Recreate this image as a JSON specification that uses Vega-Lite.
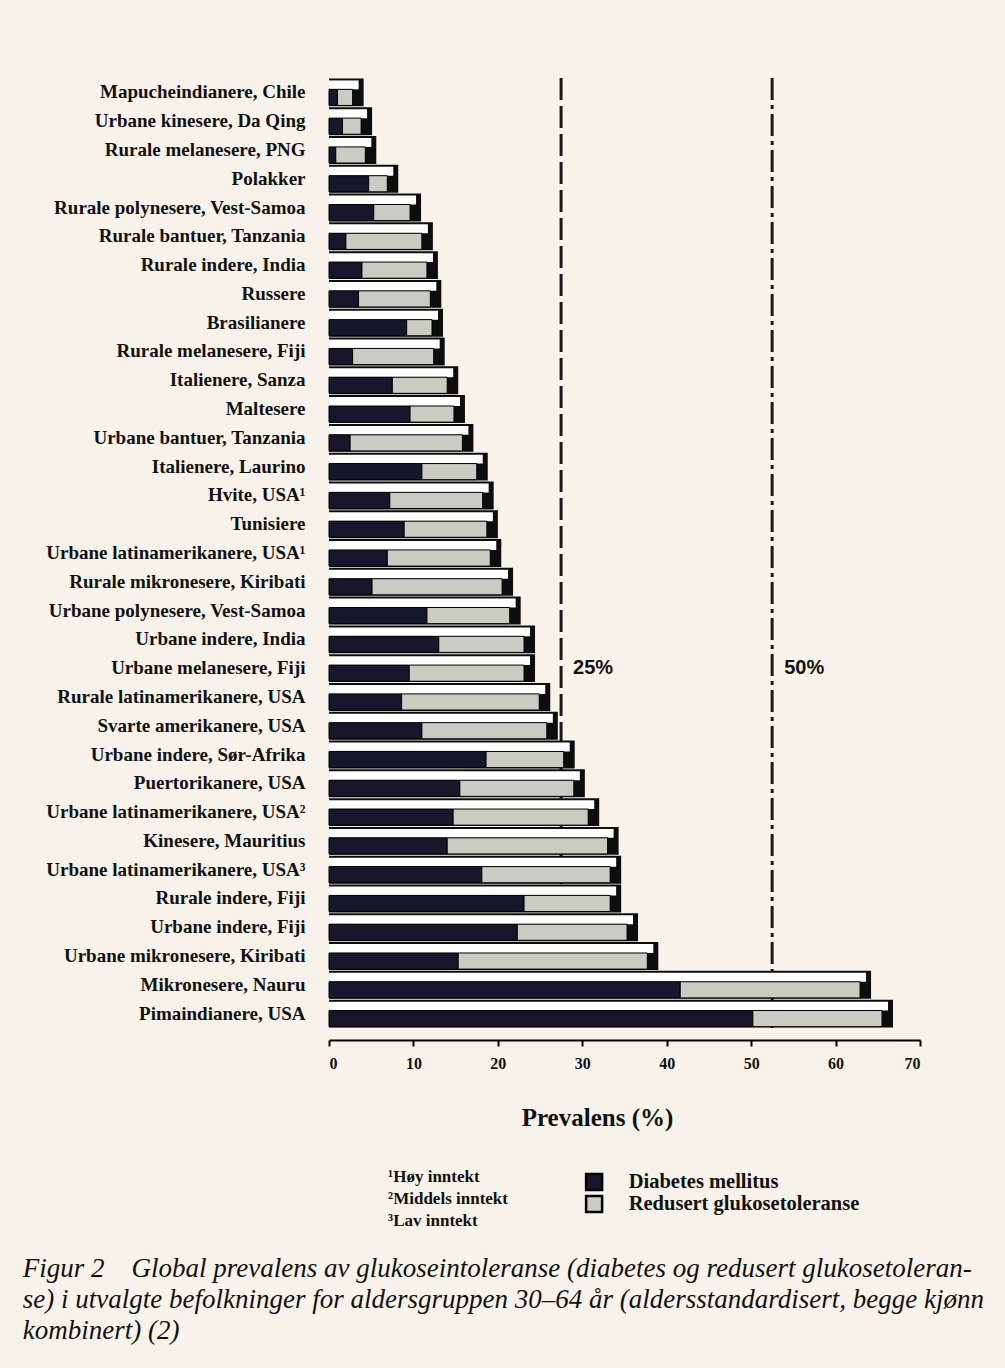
{
  "$schema": "https://vega.github.io/schema/vega-lite/v6.json",
  "background": "#f8f3ea",
  "padding": {"left": 22, "top": 76, "right": 30, "bottom": 40},
  "config": {
    "view": {"stroke": null},
    "concat": {"spacing": 36},
    "axisY": {"title": null, "ticks": false, "domain": false, "labelFont": "Liberation Serif", "labelFontWeight": "bold", "labelFontSize": 19, "labelColor": "#111111", "labelPadding": 24, "labelLimit": 400},
    "axisX": {"grid": false, "offset": 12, "domainColor": "#000000", "domainWidth": 2, "tickColor": "#000000", "tickSize": 6, "tickWidth": 2, "labelFont": "Liberation Serif", "labelFontWeight": "bold", "labelFontSize": 16, "labelColor": "#111111", "labelPadding": 9, "titleFont": "Liberation Serif", "titleFontWeight": "bold", "titleFontSize": 25, "titleColor": "#111111", "titlePadding": 34}
  },
  "title": {
    "text": ["Figur 2\u00a0\u00a0\u00a0\u00a0Global prevalens av glukoseintoleranse (diabetes og redusert glukosetoleran-", "se) i utvalgte befolkninger for aldersgruppen 30–64 år (aldersstandardisert, begge kjønn", "kombinert) (2)"],
    "orient": "bottom", "anchor": "start", "frame": "bounds",
    "font": "Liberation Serif", "fontStyle": "italic", "fontWeight": "normal", "fontSize": 27, "lineHeight": 31,
    "color": "#111111", "offset": 24, "dx": -23
  },
  "resolve": {"scale": {"x": "independent", "y": "independent"}},
  "datasets": {
    "prev": [
      {"pop": "Mapucheindianere, Chile", "type": "Diabetes mellitus", "value": 1.0},
      {"pop": "Mapucheindianere, Chile", "type": "Redusert glukosetoleranse", "value": 1.8},
      {"pop": "Urbane kinesere, Da Qing", "type": "Diabetes mellitus", "value": 1.6},
      {"pop": "Urbane kinesere, Da Qing", "type": "Redusert glukosetoleranse", "value": 2.2},
      {"pop": "Rurale melanesere, PNG", "type": "Diabetes mellitus", "value": 0.8},
      {"pop": "Rurale melanesere, PNG", "type": "Redusert glukosetoleranse", "value": 3.5},
      {"pop": "Polakker", "type": "Diabetes mellitus", "value": 4.7},
      {"pop": "Polakker", "type": "Redusert glukosetoleranse", "value": 2.2},
      {"pop": "Rurale polynesere, Vest-Samoa", "type": "Diabetes mellitus", "value": 5.3},
      {"pop": "Rurale polynesere, Vest-Samoa", "type": "Redusert glukosetoleranse", "value": 4.3},
      {"pop": "Rurale bantuer, Tanzania", "type": "Diabetes mellitus", "value": 2.0},
      {"pop": "Rurale bantuer, Tanzania", "type": "Redusert glukosetoleranse", "value": 9.0},
      {"pop": "Rurale indere, India", "type": "Diabetes mellitus", "value": 3.9},
      {"pop": "Rurale indere, India", "type": "Redusert glukosetoleranse", "value": 7.7},
      {"pop": "Russere", "type": "Diabetes mellitus", "value": 3.5},
      {"pop": "Russere", "type": "Redusert glukosetoleranse", "value": 8.5},
      {"pop": "Brasilianere", "type": "Diabetes mellitus", "value": 9.2},
      {"pop": "Brasilianere", "type": "Redusert glukosetoleranse", "value": 3.0},
      {"pop": "Rurale melanesere, Fiji", "type": "Diabetes mellitus", "value": 2.8},
      {"pop": "Rurale melanesere, Fiji", "type": "Redusert glukosetoleranse", "value": 9.6},
      {"pop": "Italienere, Sanza", "type": "Diabetes mellitus", "value": 7.5},
      {"pop": "Italienere, Sanza", "type": "Redusert glukosetoleranse", "value": 6.5},
      {"pop": "Maltesere", "type": "Diabetes mellitus", "value": 9.6},
      {"pop": "Maltesere", "type": "Redusert glukosetoleranse", "value": 5.2},
      {"pop": "Urbane bantuer, Tanzania", "type": "Diabetes mellitus", "value": 2.5},
      {"pop": "Urbane bantuer, Tanzania", "type": "Redusert glukosetoleranse", "value": 13.3},
      {"pop": "Italienere, Laurino", "type": "Diabetes mellitus", "value": 11.0},
      {"pop": "Italienere, Laurino", "type": "Redusert glukosetoleranse", "value": 6.5},
      {"pop": "Hvite, USA¹", "type": "Diabetes mellitus", "value": 7.2},
      {"pop": "Hvite, USA¹", "type": "Redusert glukosetoleranse", "value": 11.0},
      {"pop": "Tunisiere", "type": "Diabetes mellitus", "value": 8.9},
      {"pop": "Tunisiere", "type": "Redusert glukosetoleranse", "value": 9.8},
      {"pop": "Urbane latinamerikanere, USA¹", "type": "Diabetes mellitus", "value": 6.9},
      {"pop": "Urbane latinamerikanere, USA¹", "type": "Redusert glukosetoleranse", "value": 12.2},
      {"pop": "Rurale mikronesere, Kiribati", "type": "Diabetes mellitus", "value": 5.1},
      {"pop": "Rurale mikronesere, Kiribati", "type": "Redusert glukosetoleranse", "value": 15.4},
      {"pop": "Urbane polynesere, Vest-Samoa", "type": "Diabetes mellitus", "value": 11.6},
      {"pop": "Urbane polynesere, Vest-Samoa", "type": "Redusert glukosetoleranse", "value": 9.8},
      {"pop": "Urbane indere, India", "type": "Diabetes mellitus", "value": 13.0},
      {"pop": "Urbane indere, India", "type": "Redusert glukosetoleranse", "value": 10.1},
      {"pop": "Urbane melanesere, Fiji", "type": "Diabetes mellitus", "value": 9.5},
      {"pop": "Urbane melanesere, Fiji", "type": "Redusert glukosetoleranse", "value": 13.6},
      {"pop": "Rurale latinamerikanere, USA", "type": "Diabetes mellitus", "value": 8.6},
      {"pop": "Rurale latinamerikanere, USA", "type": "Redusert glukosetoleranse", "value": 16.3},
      {"pop": "Svarte amerikanere, USA", "type": "Diabetes mellitus", "value": 11.0},
      {"pop": "Svarte amerikanere, USA", "type": "Redusert glukosetoleranse", "value": 14.8},
      {"pop": "Urbane indere, Sør-Afrika", "type": "Diabetes mellitus", "value": 18.6},
      {"pop": "Urbane indere, Sør-Afrika", "type": "Redusert glukosetoleranse", "value": 9.2},
      {"pop": "Puertorikanere, USA", "type": "Diabetes mellitus", "value": 15.5},
      {"pop": "Puertorikanere, USA", "type": "Redusert glukosetoleranse", "value": 13.5},
      {"pop": "Urbane latinamerikanere, USA²", "type": "Diabetes mellitus", "value": 14.7},
      {"pop": "Urbane latinamerikanere, USA²", "type": "Redusert glukosetoleranse", "value": 16.0},
      {"pop": "Kinesere, Mauritius", "type": "Diabetes mellitus", "value": 14.0},
      {"pop": "Kinesere, Mauritius", "type": "Redusert glukosetoleranse", "value": 19.0},
      {"pop": "Urbane latinamerikanere, USA³", "type": "Diabetes mellitus", "value": 18.1},
      {"pop": "Urbane latinamerikanere, USA³", "type": "Redusert glukosetoleranse", "value": 15.2},
      {"pop": "Rurale indere, Fiji", "type": "Diabetes mellitus", "value": 23.1},
      {"pop": "Rurale indere, Fiji", "type": "Redusert glukosetoleranse", "value": 10.2},
      {"pop": "Urbane indere, Fiji", "type": "Diabetes mellitus", "value": 22.3},
      {"pop": "Urbane indere, Fiji", "type": "Redusert glukosetoleranse", "value": 13.0},
      {"pop": "Urbane mikronesere, Kiribati", "type": "Diabetes mellitus", "value": 15.3},
      {"pop": "Urbane mikronesere, Kiribati", "type": "Redusert glukosetoleranse", "value": 22.4},
      {"pop": "Mikronesere, Nauru", "type": "Diabetes mellitus", "value": 41.6},
      {"pop": "Mikronesere, Nauru", "type": "Redusert glukosetoleranse", "value": 21.3},
      {"pop": "Pimaindianere, USA", "type": "Diabetes mellitus", "value": 50.2},
      {"pop": "Pimaindianere, USA", "type": "Redusert glukosetoleranse", "value": 15.3}
    ],
    "reflines": [
      {"x": 25, "label": "25%", "at": "Urbane melanesere, Fiji"},
      {"x": 50, "label": "50%", "at": "Urbane melanesere, Fiji"}
    ],
    "notes": [
      {"line": 1, "text": "¹Høy inntekt"},
      {"line": 2, "text": "²Middels inntekt"},
      {"line": 3, "text": "³Lav inntekt"}
    ],
    "keys": [
      {"line": 1, "type": "Diabetes mellitus"},
      {"line": 2, "type": "Redusert glukosetoleranse"}
    ]
  },
  "vconcat": [
    {
      "width": 591,
      "height": 950,
      "layer": [
        {
          "data": {"name": "reflines"},
          "mark": {"type": "rule", "xOffset": 21, "strokeWidth": 3, "color": "#1a1a1a"},
          "encoding": {
            "x": {"field": "x", "type": "quantitative", "scale": {"domain": [0, 70], "nice": false}, "axis": {"values": [0, 10, 20, 30, 40, 50, 60, 70], "title": "Prevalens (%)", "titleX": 268}},
            "strokeDash": {"field": "label", "type": "nominal", "scale": {"domain": ["25%", "50%"], "range": [[22, 6], [22, 5, 4, 5]]}, "legend": null}
          }
        },
        {
          "data": {"name": "prev"},
          "mark": {"type": "bar", "color": "#0d0d0d", "height": {"band": 0.97}, "xOffset": 11},
          "encoding": {
            "y": {"field": "pop", "type": "nominal", "sort": null, "scale": {"paddingInner": 0, "paddingOuter": 0}},
            "x": {"aggregate": "sum", "field": "value", "type": "quantitative", "scale": {"domain": [0, 70], "nice": false}}
          }
        },
        {
          "data": {"name": "prev"},
          "mark": {"type": "bar", "color": "#ffffff", "height": {"band": 0.31}, "xOffset": 6, "yOffset": -7.5},
          "encoding": {
            "y": {"field": "pop", "type": "nominal", "sort": null},
            "x": {"aggregate": "sum", "field": "value", "type": "quantitative"}
          }
        },
        {
          "data": {"name": "prev"},
          "mark": {"type": "bar", "height": {"band": 0.56}, "yOffset": 5, "stroke": "#000000", "strokeWidth": 1},
          "encoding": {
            "y": {"field": "pop", "type": "nominal", "sort": null},
            "x": {"field": "value", "type": "quantitative", "stack": "zero"},
            "color": {"field": "type", "type": "nominal", "scale": {"domain": ["Diabetes mellitus", "Redusert glukosetoleranse"], "range": ["#17172c", "#cbcbc2"]}, "legend": null}
          }
        },
        {
          "data": {"name": "reflines"},
          "mark": {"type": "text", "align": "left", "dx": 33, "font": "Liberation Sans", "fontWeight": "bold", "fontSize": 20, "color": "#111111"},
          "encoding": {
            "x": {"field": "x", "type": "quantitative"},
            "y": {"field": "at", "type": "nominal", "sort": null},
            "text": {"field": "label"}
          }
        }
      ]
    },
    {
      "width": 591,
      "height": 66,
      "layer": [
        {
          "data": {"name": "notes"},
          "mark": {"type": "text", "align": "left", "font": "Liberation Serif", "fontWeight": "bold", "fontSize": 17, "color": "#111111"},
          "encoding": {
            "x": {"datum": 7, "type": "quantitative", "scale": {"domain": [0, 70], "nice": false}, "axis": null},
            "y": {"field": "line", "type": "ordinal", "scale": {"domain": [1, 2, 3], "padding": 0.5}, "axis": null},
            "text": {"field": "text"}
          }
        },
        {
          "data": {"name": "keys"},
          "mark": {"type": "square", "size": 256, "filled": true, "opacity": 1, "stroke": "#000000", "strokeWidth": 2.5, "yOffset": 5},
          "encoding": {
            "x": {"datum": 31.4, "type": "quantitative"},
            "y": {"field": "line", "type": "ordinal"},
            "color": {"field": "type", "type": "nominal", "legend": null}
          }
        },
        {
          "data": {"name": "keys"},
          "mark": {"type": "text", "align": "left", "yOffset": 5, "font": "Liberation Serif", "fontWeight": "bold", "fontSize": 20.5, "color": "#111111"},
          "encoding": {
            "x": {"datum": 35.5, "type": "quantitative"},
            "y": {"field": "line", "type": "ordinal"},
            "text": {"field": "type"}
          }
        }
      ]
    }
  ]
}
